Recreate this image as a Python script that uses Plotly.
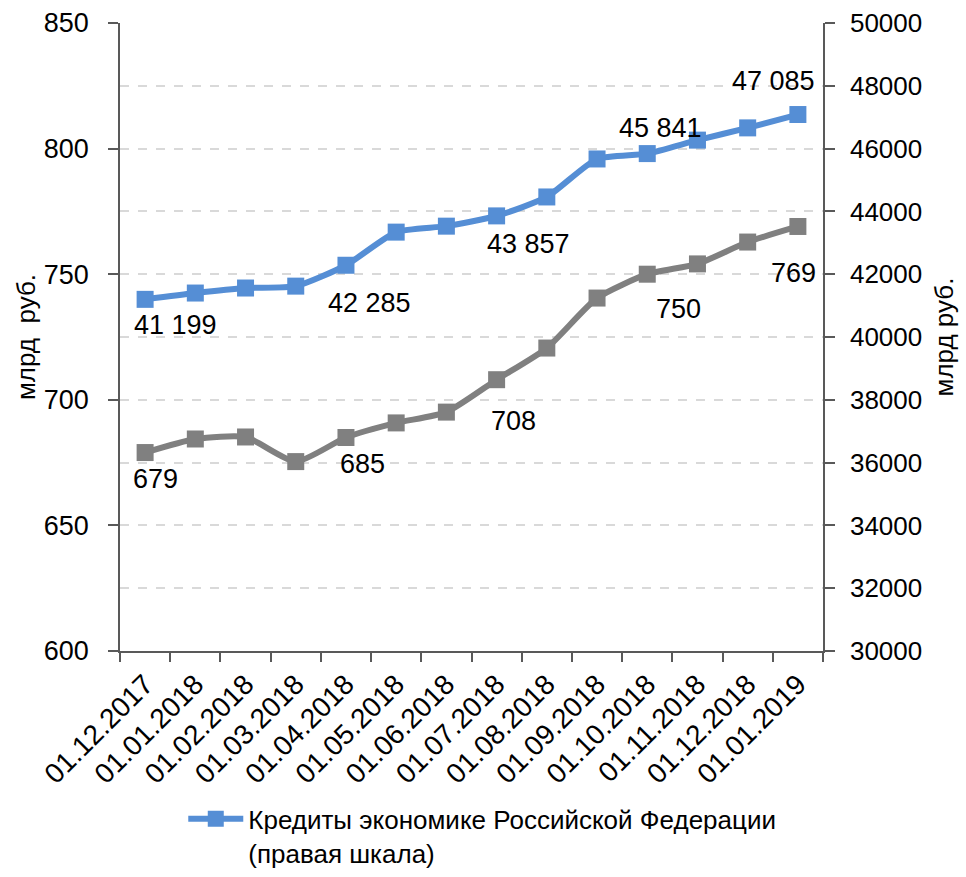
import plotly.graph_objects as go

dates = ["01.12.2017", "01.01.2018", "01.02.2018", "01.03.2018", "01.04.2018",
         "01.05.2018", "01.06.2018", "01.07.2018", "01.08.2018", "01.09.2018",
         "01.10.2018", "01.11.2018", "01.12.2018", "01.01.2019"]

credits = [41199, 41400, 41560, 41620, 42285, 43340, 43530, 43857, 44460,
           45670, 45841, 46270, 46660, 47085]

gray_vals = [679, 684.4, 685.2, 675.4, 685, 690.8, 695.1, 708, 720.6, 740.5,
             750, 754.1, 762.8, 769]

label_idx = [0, 4, 7, 10, 13]

# label offsets in pixels (style only)
credit_off = [(30, -26), (24, -38), (32, -28), (13, 26), (-24, 34)]
gray_off = [(10, -26), (17, -27), (17, -41), (31, -35), (-4, -47)]

FONT = "Liberation Sans, Arial"
LINE_C = "#595959"


def fmt_space(v):
    return f"{int(round(v)):,}".replace(",", " ")


fig = go.Figure()

fig.add_trace(go.Scatter(
    x=dates, y=gray_vals, mode="lines+markers",
    line=dict(color="#808080", width=6, shape="spline", smoothing=0.6),
    marker=dict(symbol="square", size=17, color="#808080"),
    showlegend=False, yaxis="y", cliponaxis=False,
))

fig.add_trace(go.Scatter(
    x=dates, y=credits, mode="lines+markers",
    name="Кредиты экономике Российской Федерации<br>(правая шкала)",
    line=dict(color="#558ED5", width=6, shape="spline", smoothing=0.6),
    marker=dict(symbol="square", size=17, color="#558ED5"),
    yaxis="y2", cliponaxis=False,
))

annotations = []
for i, (dx, dy) in zip(label_idx, credit_off):
    annotations.append(dict(
        x=dates[i], y=credits[i], xref="x", yref="y2", text=fmt_space(credits[i]),
        showarrow=False, xshift=dx, yshift=dy,
        font=dict(size=27, family=FONT, color="#000000"),
    ))
for i, (dx, dy) in zip(label_idx, gray_off):
    annotations.append(dict(
        x=dates[i], y=gray_vals[i], xref="x", yref="y", text=str(int(round(gray_vals[i]))),
        showarrow=False, xshift=dx, yshift=dy,
        font=dict(size=27, family=FONT, color="#000000"),
    ))

fig.update_layout(
    width=966, height=877,
    margin=dict(l=120, r=143, t=23, b=226, autoexpand=False),
    paper_bgcolor="white", plot_bgcolor="white",
    font=dict(family=FONT, size=26, color="#000000"),
    annotations=annotations,
    xaxis=dict(
        type="category", range=[-0.5, len(dates) - 0.5],
        tickangle=-45, tickson="boundaries",
        ticks="outside", ticklen=9, tickcolor=LINE_C, tickwidth=1.5,
        ticklabelstandoff=4,
        showline=True, linecolor=LINE_C, linewidth=1.5,
        showgrid=False, tickfont=dict(size=28, family=FONT),
        automargin=False,
    ),
    yaxis=dict(
        range=[600, 850], tickvals=[600, 650, 700, 750, 800, 850],
        showline=True, linecolor=LINE_C, linewidth=1.5,
        ticks="outside", ticklen=10, tickcolor=LINE_C, tickwidth=1.5,
        ticklabelstandoff=14,
        showgrid=False, zeroline=False, automargin=False,
        title=dict(text="млрд  руб.", font=dict(size=26, family=FONT), standoff=1),
        tickfont=dict(size=27, family=FONT),
    ),
    yaxis2=dict(
        range=[30000, 50000], tickvals=list(range(30000, 50001, 2000)),
        tickformat="d", overlaying="y", side="right",
        showline=True, linecolor=LINE_C, linewidth=1.5,
        ticks="outside", ticklen=10, tickcolor=LINE_C, tickwidth=1.5,
        ticklabelstandoff=10,
        showgrid=True, gridcolor="#D9D9D9", griddash="dash", gridwidth=1.5,
        zeroline=False, automargin=False,
        title=dict(text="млрд руб.", font=dict(size=26, family=FONT), standoff=14),
        tickfont=dict(size=26, family=FONT),
    ),
    legend=dict(
        orientation="h", x=0.09, xanchor="left", y=-0.23, yanchor="top",
        font=dict(size=26, family=FONT), itemwidth=55, valign="top",
    ),
)

fig.write_html("out.html", config={"displayModeBar": False},
               post_script="document.body.style.margin='0';")
